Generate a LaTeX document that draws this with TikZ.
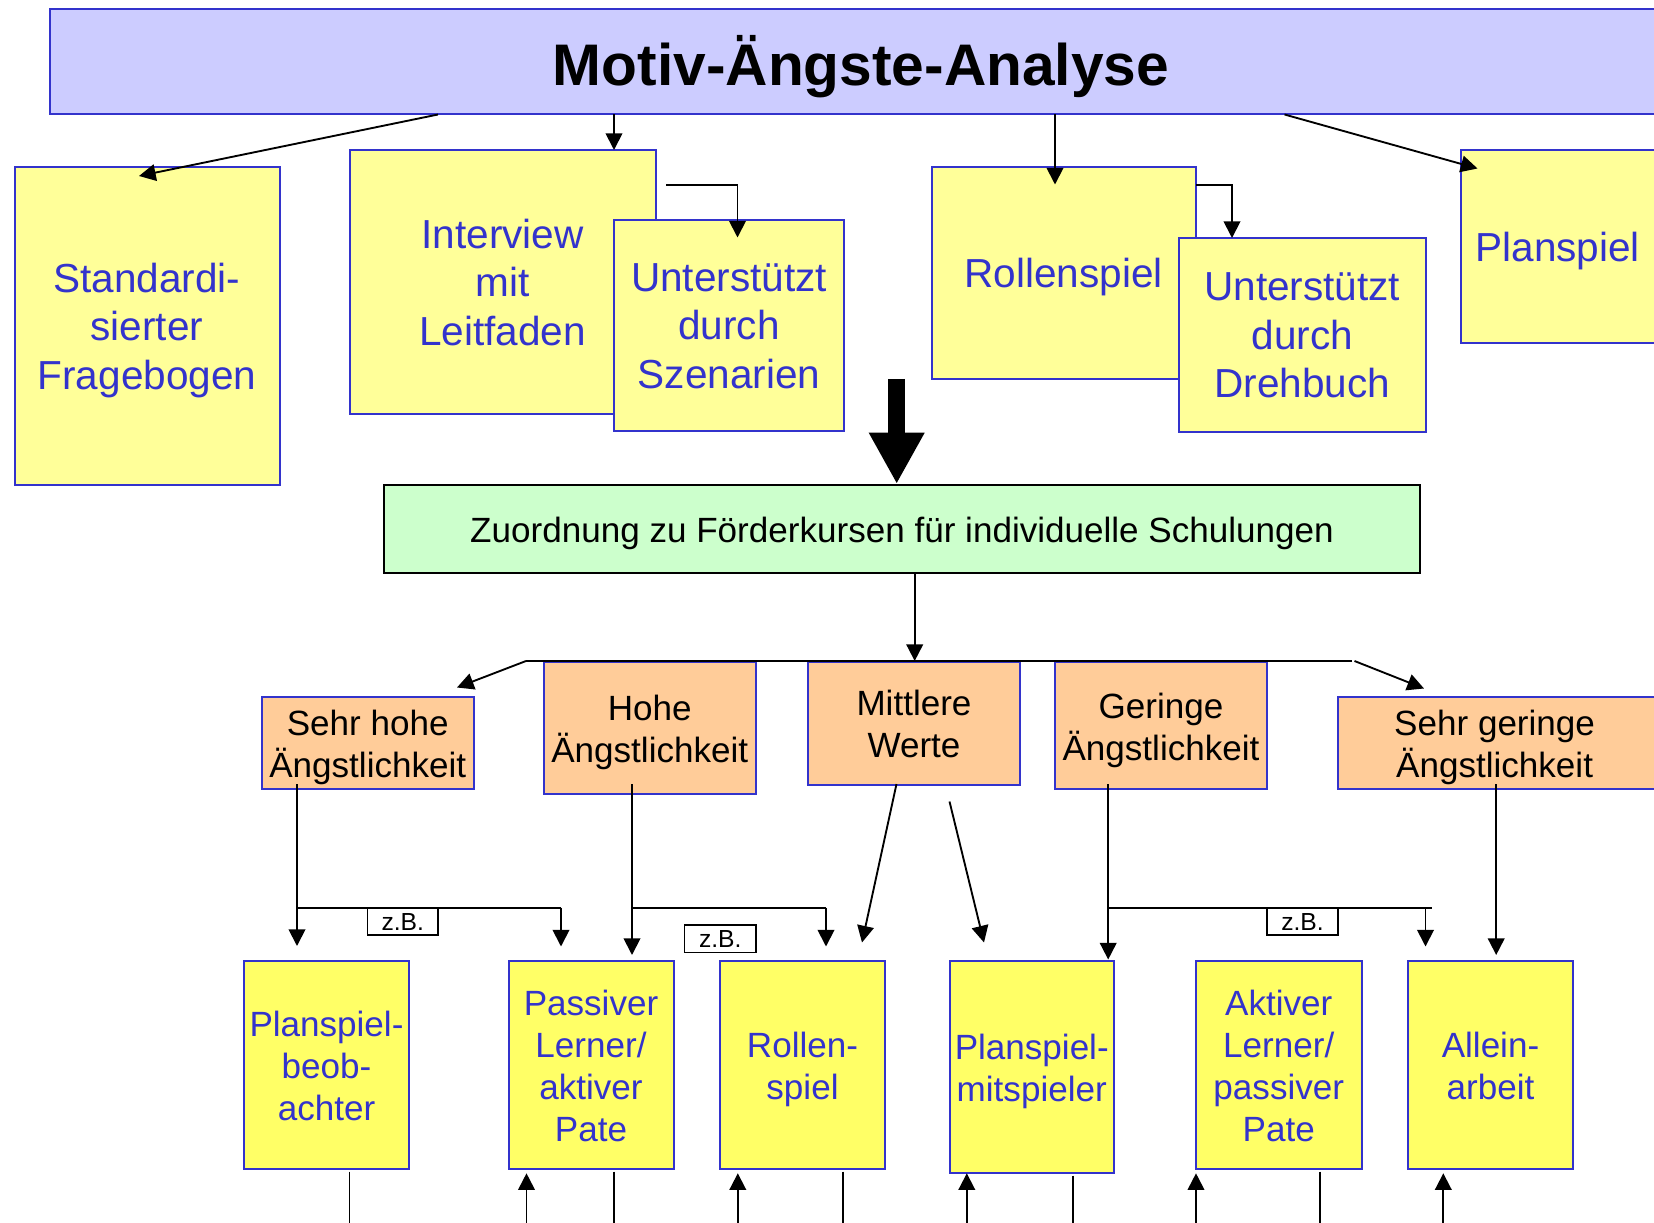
\documentclass[tikz,border=0pt]{standalone}
\usepackage{fontspec}
\setmainfont{Liberation Sans}
\usetikzlibrary{arrows.meta}
\definecolor{bordblue}{RGB}{51,51,204}
\definecolor{txtblue}{RGB}{51,51,204}
\definecolor{titlefill}{RGB}{204,204,255}
\definecolor{ylight}{RGB}{255,255,153}
\definecolor{ybright}{RGB}{255,255,102}
\definecolor{orangefill}{RGB}{255,204,153}
\definecolor{greenfill}{RGB}{204,255,204}
% #1 kind, #2 left, #3 top, #4 right, #5 bottom, #6 name, #7 text
\newcommand\mkbox[7]{%
  \node[#1 box, minimum width={(#4-#2)*0.75pt}, minimum height={(#5-#3)*0.75pt},
        label={[#1 txt, name=#6-txt]center:{#7}}] (#6) at (#2,#3) {};}
\tikzset{
  bx/.style={draw=bordblue, line width=1.5pt, inner sep=0pt, outer sep=0pt, anchor=north west},
  tx/.style={inner sep=0pt, outer sep=0pt, align=center, anchor=center, yshift=-3.4pt},
  title box/.style={bx, fill=titlefill},
  title txt/.style={tx, text=black, text depth=9.2pt, font=\fontsize{44pt}{52pt}\selectfont\bfseries},
  top box/.style={bx, fill=ylight},
  top txt/.style={tx, text=txtblue, text depth=6.4pt, font=\fontsize{30.4pt}{36.4pt}\selectfont},
  green box/.style={bx, draw=black, fill=greenfill},
  green txt/.style={tx, text=black, text depth=5.5pt, font=\fontsize{26.3pt}{31.6pt}\selectfont},
  orange box/.style={bx, fill=orangefill},
  orange txt/.style={tx, text=black, text depth=5.5pt, font=\fontsize{26.3pt}{31.6pt}\selectfont},
  orangeL box/.style={orange box},
  orangeL txt/.style={orange txt, xshift=-1.6pt},
  low box/.style={bx, fill=ybright},
  low txt/.style={tx, text=txtblue, text depth=5.5pt, font=\fontsize{26.3pt}{31.6pt}\selectfont},
  zb box/.style={bx, draw=black, line width=1.2pt, fill=white},
  zb txt/.style={tx, yshift=3.2pt, text=black, font=\fontsize{18.5pt}{22pt}\selectfont},
  ln/.style={line width=1.4pt, draw=black},
  arr/.style={ln, -{Triangle[length=12.5pt,width=12.5pt]}},
  bigarr/.style={line width=12.75pt, draw=black, -{Triangle[length=38.5pt,width=39pt]}}
}
\begin{document}
\begin{tikzpicture}[x=0.75pt,y=-0.75pt]
\useasboundingbox (0,0) rectangle (1654,1223);
\clip (0,0) rectangle (1654,1223);
\fill[white] (0,0) rectangle (1654,1223);

% title
\mkbox{title}{50}{9}{1672}{114.5}{title}{Motiv-Ängste-Analyse}

% first level
\mkbox{top}{14.5}{167}{279.5}{485}{std}{Standardi-\\sierter\\Fragebogen}
\mkbox{top}{349.5}{150}{655.5}{414}{intv}{Interview\\mit\\Leitfaden}
\mkbox{top}{614}{220}{844}{431.5}{szen}{Unterstützt\\durch\\Szenarien}
\mkbox{top}{931.5}{167}{1196}{379}{rolle}{Rollenspiel}
\mkbox{top}{1178.5}{238}{1426}{432}{dreh}{Unterstützt\\durch\\Drehbuch}
\mkbox{top}{1460.5}{150}{1655}{343.5}{plan}{Planspiel}

% connectors from title
\coordinate (t1) at (438,114.5);
\coordinate (stdin) at (139,176);
\draw[arr] (t1) -- (stdin);
\coordinate (t2) at (614,114.5);
\draw[arr] (t2) -- (t2 |- intv.north);
\coordinate (t3) at (1055,114.5);
\coordinate (rollein) at (1055,184.5);
\draw[arr] (t3) -- (rollein);
\coordinate (t4) at (1284.5,114.5);
\coordinate (planin) at (1477.5,168.5);
\draw[arr] (t4) -- (planin);

% elbows
\coordinate (e1) at (666,185);
\coordinate (szenin) at (737.5,237.5);
\draw[arr] (e1) -| (szenin);
\coordinate (e2) at (1196,185);
\coordinate (drehx) at (1232,185);
\draw[arr] (e2) -| (drehx |- dreh.north);

% big arrow
\coordinate (bigtop) at (896.7,379);
\coordinate (bigtip) at (896.7,484);
\draw[bigarr] (bigtop) -- (bigtip);

% green box
\mkbox{green}{384}{485}{1420}{572.5}{zuord}{Zuordnung zu Förderkursen für individuelle Schulungen}

% orange boxes
\mkbox{orange}{261.5}{697}{474}{789}{sh}{Sehr hohe\\Ängstlichkeit}
\mkbox{orange}{544}{662}{755.5}{794}{ho}{Hohe\\Ängstlichkeit}
\mkbox{orange}{808}{662}{1020}{784.5}{mi}{Mittlere\\Werte}
\mkbox{orange}{1055}{662}{1267}{789}{ge}{Geringe\\Ängstlichkeit}
\mkbox{orangeL}{1337.5}{697}{1656}{789}{sg}{Sehr geringe\\Ängstlichkeit}

% distribution
\coordinate (sp) at (914.7,661);
\draw[arr] (zuord.south -| sp) -- (sp);
\coordinate (hl) at (526,661);
\coordinate (hr) at (1352,661);
\draw[ln] (hl) -- (hr);
\coordinate (shin) at (457,687.5);
\draw[arr] (hl) -- (shin);
\coordinate (hr2) at (1354.5,661);
\coordinate (sgin) at (1424,688.5);
\draw[arr] (hr2) -- (sgin);

% bottom boxes
\mkbox{low}{244}{961}{409}{1168.5}{pb}{Planspiel-\\beob-\\achter}
\mkbox{low}{508.5}{961}{673.5}{1168.5}{pl}{Passiver\\Lerner/\\aktiver\\Pate}
\mkbox{low}{720}{961}{885}{1168.5}{rs}{Rollen-\\spiel}
\mkbox{low}{949.5}{961}{1114}{1172.5}{pm}{Planspiel-\\mitspieler}
\mkbox{low}{1196}{961}{1361.5}{1168.5}{al}{Aktiver\\Lerner/\\passiver\\Pate}
\mkbox{low}{1408}{961}{1573}{1168.5}{aa}{Allein-\\arbeit}

% Sehr hohe
\coordinate (a1) at (297,784);
\coordinate (a1b) at (297,907.7);
\coordinate (a1t) at (297,946);
\draw[arr] (a1) -- (a1t);
\coordinate (a1r) at (561,907.7);
\coordinate (a1rt) at (561,946.5);
\draw[ln] (a1b) -- (a1r);
\draw[arr] (a1r) -- (a1rt);
\mkbox{zb}{367.5}{908}{438}{935}{zb1}{z.B.}

% Hohe
\coordinate (a2) at (632,784);
\coordinate (a2b) at (632,907.7);
\coordinate (a2t) at (632,955);
\draw[arr] (a2) -- (a2t);
\coordinate (a2r) at (826,907.7);
\coordinate (a2rt) at (826,946.5);
\draw[ln] (a2b) -- (a2r);
\draw[arr] (a2r) -- (a2rt);
\mkbox{zb}{684.5}{925}{756}{952.5}{zb2}{z.B.}

% Mittlere
\coordinate (m1) at (896.5,784);
\coordinate (m1t) at (862,942.5);
\draw[arr] (m1) -- (m1t);
\coordinate (m2) at (949.5,801.5);
\coordinate (m2t) at (984,942.5);
\draw[arr] (m2) -- (m2t);

% Geringe
\coordinate (a3) at (1108.2,784);
\coordinate (a3b) at (1108.2,907.7);
\coordinate (a3t) at (1108.2,959.5);
\draw[arr] (a3) -- (a3t);
\coordinate (a3e) at (1432,907.7);
\coordinate (a3r) at (1425.5,907.7);
\coordinate (a3rt) at (1425.5,946.5);
\draw[ln] (a3b) -- (a3e);
\draw[arr] (a3r) -- (a3rt);
\mkbox{zb}{1267}{908}{1338}{935}{zb3}{z.B.}

% Sehr geringe
\coordinate (a4) at (1496.2,784);
\coordinate (a4t) at (1496.2,955);
\draw[arr] (a4) -- (a4t);

% bottom lines leaving the picture
\foreach \xx/\bx in {349.5/pb, 613.8/pl, 843.4/rs, 1073/pm, 1319.7/al} {
  \coordinate (lo) at (\xx,1235);
  \draw[ln] (lo |- \bx.south) ++(0,3) -- (lo);
}
\foreach \xx in {526.5, 737.8, 966.8, 1196, 1443.3} {
  \coordinate (lu) at (\xx,1235);
  \coordinate (lut) at (\xx,1173.3);
  \draw[arr] (lu) -- (lut);
}
\end{tikzpicture}
\end{document}
